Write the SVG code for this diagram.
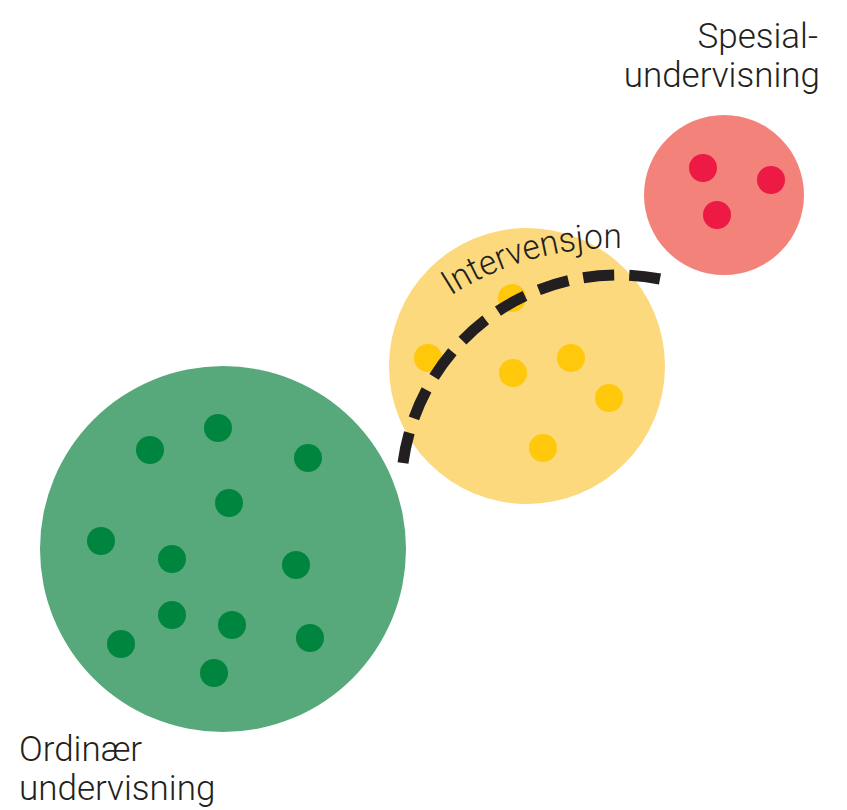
<svg xmlns="http://www.w3.org/2000/svg" width="847" height="810" viewBox="0 0 847 810">
  <style>
    .lbl { font-family: Roboto, "Liberation Sans", sans-serif; font-weight: 300; font-size: 35px; fill: #231f20; }
    .gdot { fill: #00853f; }
    .ydot { fill: #ffc80a; }
    .rdot { fill: #ec1a45; }
    .dash { fill: none; stroke: #231f20; stroke-width: 11; stroke-dasharray: 31 15; }
  </style>
  <defs>
    <path id="tp" d="M440,303 A300,300 0 0 1 700,261"/>
  </defs>
  <rect width="847" height="810" fill="#ffffff"/>

  <g id="ordinaer">
    <circle cx="223" cy="549" r="183" fill="#57a87b"/>
    <circle class="gdot" cx="150" cy="450" r="14"/>
    <circle class="gdot" cx="218" cy="428" r="14"/>
    <circle class="gdot" cx="308" cy="458" r="14"/>
    <circle class="gdot" cx="229" cy="503" r="14"/>
    <circle class="gdot" cx="101" cy="541" r="14"/>
    <circle class="gdot" cx="172" cy="559" r="14"/>
    <circle class="gdot" cx="296" cy="565" r="14"/>
    <circle class="gdot" cx="172" cy="615" r="14"/>
    <circle class="gdot" cx="232" cy="625" r="14"/>
    <circle class="gdot" cx="310" cy="638" r="14"/>
    <circle class="gdot" cx="121" cy="644" r="14"/>
    <circle class="gdot" cx="214" cy="673" r="14"/>
    <text class="lbl" x="19" y="761">Ordinær</text>
    <text class="lbl" x="19" y="800">undervisning</text>
  </g>

  <g id="intervensjon">
    <circle cx="527" cy="366" r="138" fill="#fdd97d"/>
    <circle class="ydot" cx="428" cy="358" r="14"/>
    <circle class="ydot" cx="512" cy="298" r="14"/>
    <circle class="ydot" cx="571" cy="358" r="14"/>
    <circle class="ydot" cx="513" cy="373" r="14"/>
    <circle class="ydot" cx="609" cy="398" r="14"/>
    <circle class="ydot" cx="543" cy="448" r="14"/>
    <text class="lbl" style="font-size:35px"><textPath href="#tp" startOffset="13" textLength="180" lengthAdjust="spacingAndGlyphs">Intervensjon</textPath></text>
  </g>

  <g id="spesial">
    <circle cx="724" cy="195" r="80" fill="#f2827a"/>
    <circle class="rdot" cx="703" cy="168" r="14"/>
    <circle class="rdot" cx="771" cy="180" r="14"/>
    <circle class="rdot" cx="717" cy="215" r="14"/>
    <text class="lbl" x="818" y="48" text-anchor="end">Spesial-</text>
    <text class="lbl" x="820" y="87" text-anchor="end">undervisning</text>
  </g>

  <g id="connectors">
    <path class="dash" d="M403,463 A217,217 0 0 1 660,279" pathLength="353"/>
  </g>
</svg>
